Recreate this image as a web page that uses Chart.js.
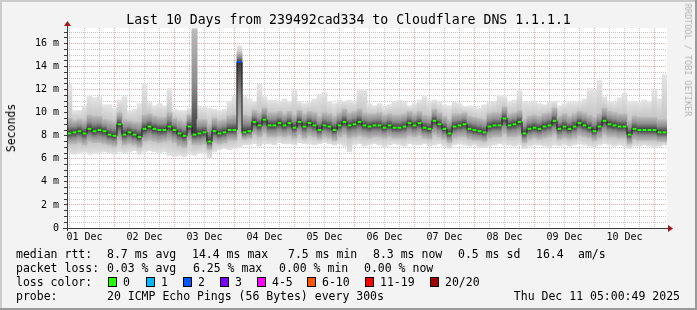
<!DOCTYPE html>
<html>
<head>
<meta charset="utf-8">
<script src="https://cdn.jsdelivr.net/npm/chart.js@4.4.1/dist/chart.umd.min.js"></script>
<style>
  body { margin: 0; background: #f3f3f3; }
  #wrap { position: relative; width: 697px; height: 310px; background: #f3f3f3; overflow: hidden;
          font-family: 'DejaVu Sans Mono', monospace; color: #000; }
  #chart { position: absolute; left: 0; top: 0; }
  .t { position: absolute; white-space: pre; font-size: 11.5px; line-height: 14px; }
  #title { position: absolute; left: 0; width: 697px; top: 12px; text-align: center; font-size: 13.2px; line-height: 16px; white-space: pre; }
  #ylab { position: absolute; left: 11px; top: 128px; font-size: 11.5px; white-space: pre;
          transform: translate(-50%, -50%) rotate(-90deg); }
  #brand { position: absolute; left: 688px; top: 60px; font-size: 8.5px; color: #b4b4b4; white-space: pre;
           transform: translate(-50%, -50%) rotate(90deg); }
  .box { position: absolute; width: 7px; height: 8px; border: 1px solid #000; }
</style>
</head>
<body>
<div id="wrap">
  <canvas id="chart" width="697" height="310"></canvas>
  <div id="title">Last 10 Days from 239492cad334 to Cloudflare DNS 1.1.1.1</div>
  <div id="ylab">Seconds</div>
  <div id="brand">RRDTOOL / TOBI OETIKER</div>

  <div class="t" style="left:16px;top:247px">median rtt:</div>
  <div class="t" style="left:107px;top:247px">8.7 ms avg</div>
  <div class="t" style="left:192px;top:247px">14.4 ms max</div>
  <div class="t" style="left:288px;top:247px">7.5 ms min</div>
  <div class="t" style="left:373px;top:247px">8.3 ms now</div>
  <div class="t" style="left:458px;top:247px">0.5 ms sd</div>
  <div class="t" style="left:536px;top:247px">16.4</div>
  <div class="t" style="left:578px;top:247px">am/s</div>

  <div class="t" style="left:16px;top:261px">packet loss:</div>
  <div class="t" style="left:107px;top:261px">0.03 % avg</div>
  <div class="t" style="left:193px;top:261px">6.25 % max</div>
  <div class="t" style="left:279px;top:261px">0.00 % min</div>
  <div class="t" style="left:364px;top:261px">0.00 % now</div>

  <div class="t" style="left:16px;top:275px">loss color:</div>
  <div id="losslegend"></div>

  <div class="t" style="left:16px;top:289px">probe:</div>
  <div class="t" style="left:107px;top:289px">20 ICMP Echo Pings (56 Bytes) every 300s</div>
  <div class="t" style="right:17px;top:289px">Thu Dec 11 05:00:49 2025</div>
</div>

<script>
// 2 hour bins, hours counted from Dec 1 05:00
const binHours = [];
for (let i = 0; i < 120; i++) binHours.push(2 * i + 1);

const medianRtt = [
  8.2, 8.3, 8.4, 8.2, 8.6, 8.4, 8.5, 8.4, 8.1, 8.0, 9.0, 8.1, 8.3, 8.1, 7.9, 8.6, 8.8, 8.6, 8.5, 8.5,
  8.8, 8.5, 8.2, 8.0, 8.8, 8.1, 8.2, 8.3, 7.5, 8.4, 8.2, 8.3, 8.5, 8.5, 14.4, 8.3, 8.4, 9.2, 8.9, 9.4,
  8.9, 8.9, 9.1, 8.9, 9.1, 8.7, 9.2, 8.8, 9.1, 8.9, 8.5, 8.9, 8.8, 8.5, 8.9, 9.2, 8.9, 9.0, 9.2, 8.9,
  8.8, 8.9, 8.9, 8.7, 8.9, 8.7, 8.7, 8.8, 9.1, 8.9, 9.1, 8.7, 8.6, 9.3, 9.0, 8.6, 8.2, 8.8, 8.9, 9.0,
  8.6, 8.5, 8.4, 8.3, 8.8, 8.9, 8.9, 9.5, 8.9, 9.0, 9.2, 8.2, 8.6, 8.7, 8.6, 8.8, 8.9, 9.3, 8.6, 8.8,
  8.6, 8.8, 9.1, 8.9, 8.7, 8.4, 8.8, 9.3, 9.0, 8.9, 8.8, 8.8, 8.1, 8.6, 8.5, 8.5, 8.5, 8.5, 8.3, 8.3
];
const pingMin = [
  6.5, 6.4, 6.5, 6.6, 6.4, 6.5, 6.5, 6.6, 6.5, 6.4, 6.6, 6.5, 6.6, 6.7, 6.4, 6.6, 6.7, 6.6, 6.5, 6.6,
  6.3, 6.2, 6.3, 6.2, 6.4, 6.3, 6.5, 6.5, 6.1, 6.6, 6.8, 6.9, 6.8, 6.9, 7.0, 7.2, 7.2, 7.3, 7.1, 7.3,
  7.3, 7.2, 7.4, 7.3, 7.3, 7.2, 7.4, 7.3, 7.3, 7.2, 7.3, 7.4, 7.3, 7.2, 7.3, 7.1, 6.6, 7.2, 7.3, 7.1,
  7.2, 7.3, 7.2, 7.0, 7.2, 7.3, 7.2, 7.1, 7.3, 7.2, 7.2, 7.3, 7.1, 7.2, 7.3, 7.1, 6.9, 7.2, 7.3, 7.2,
  7.1, 7.2, 7.0, 7.0, 7.1, 7.2, 7.3, 7.2, 7.2, 7.1, 7.2, 6.9, 7.1, 7.2, 7.2, 7.1, 7.0, 7.2, 7.1, 7.2,
  7.1, 7.2, 7.3, 7.2, 7.1, 7.0, 7.2, 7.3, 7.2, 7.1, 7.2, 7.1, 6.9, 7.1, 7.1, 7.2, 7.1, 7.0, 7.1, 7.2
];
const pingLow = [
  7.3, 7.3, 7.4, 7.2, 7.5, 7.4, 7.4, 7.3, 7.2, 7.1, 7.6, 7.2, 7.3, 7.2, 7.0, 7.5, 7.6, 7.5, 7.4, 7.5,
  7.6, 7.4, 7.1, 7.0, 7.6, 7.2, 7.2, 7.3, 6.8, 7.4, 7.3, 7.4, 7.6, 7.6, 8.2, 7.7, 7.8, 8.1, 7.9, 8.2,
  7.9, 7.9, 8.0, 7.9, 8.0, 7.8, 8.1, 7.8, 8.0, 7.9, 7.7, 7.9, 7.8, 7.6, 7.9, 8.1, 7.8, 7.9, 8.0, 7.9,
  7.8, 7.9, 7.9, 7.8, 7.9, 7.8, 7.8, 7.8, 8.0, 7.9, 8.0, 7.8, 7.7, 8.1, 7.9, 7.7, 7.4, 7.8, 7.9, 7.9,
  7.7, 7.6, 7.6, 7.5, 7.8, 7.9, 7.9, 8.2, 7.9, 7.9, 8.0, 7.4, 7.7, 7.8, 7.7, 7.8, 7.9, 8.1, 7.7, 7.8,
  7.7, 7.8, 8.0, 7.9, 7.8, 7.6, 7.8, 8.1, 7.9, 7.9, 7.8, 7.8, 7.3, 7.7, 7.6, 7.6, 7.6, 7.6, 7.5, 7.5
];
const pingHigh = [
  9.5, 9.3, 9.4, 9.3, 9.8, 9.7, 9.7, 9.4, 9.3, 9.2, 10.0, 9.4, 9.3, 9.2, 9.2, 9.8, 9.9, 9.7, 9.6, 9.6,
  10.0, 9.5, 9.3, 9.2, 9.8, 17.2, 9.4, 9.4, 9.0, 9.5, 9.3, 9.4, 9.7, 9.8, 15.2, 9.8, 9.7, 10.2, 10.0, 10.4,
  10.0, 10.0, 10.1, 9.9, 10.1, 9.8, 10.2, 9.9, 10.1, 10.0, 9.7, 10.0, 9.9, 9.7, 10.0, 10.3, 10.0, 10.1, 10.3, 10.0,
  9.9, 9.9, 10.0, 9.8, 9.9, 9.8, 9.8, 9.9, 10.1, 9.9, 10.1, 9.8, 9.7, 10.3, 10.0, 9.7, 9.4, 9.9, 9.9, 10.0,
  9.7, 9.6, 9.5, 9.4, 9.9, 10.0, 10.0, 10.5, 9.9, 10.0, 10.2, 9.4, 9.7, 9.8, 9.7, 9.9, 10.0, 10.4, 9.7, 9.9,
  9.7, 9.9, 10.1, 10.0, 9.8, 9.6, 9.9, 10.4, 10.1, 10.0, 9.9, 9.9, 9.3, 9.7, 9.6, 9.6, 9.6, 9.6, 9.4, 9.4
];
const pingMax = [
  12.4, 10.2, 10.2, 10.6, 11.5, 11.3, 11.4, 10.7, 10.7, 10.4, 11.1, 11.4, 10.2, 10.3, 10.8, 12.5, 10.9, 10.6, 10.8, 10.6,
  12.1, 10.3, 10.2, 10.2, 10.4, 17.4, 10.6, 10.5, 10.4, 10.3, 10.2, 10.3, 11.0, 11.4, 15.8, 11.4, 11.2, 11.0, 12.5, 11.4,
  11.1, 11.1, 11.0, 11.2, 11.0, 12.0, 11.0, 10.8, 10.9, 11.2, 11.6, 11.8, 11.0, 10.8, 11.1, 11.0, 11.1, 11.0, 12.0, 12.0,
  10.8, 10.6, 10.8, 10.5, 10.7, 11.0, 11.1, 10.9, 10.6, 10.8, 11.1, 11.4, 11.0, 11.1, 10.9, 10.7, 10.6, 10.9, 10.8, 10.5,
  10.6, 10.5, 10.4, 10.7, 10.9, 11.0, 11.5, 11.4, 11.0, 11.1, 12.0, 11.0, 10.9, 11.0, 10.8, 10.7, 10.9, 11.0, 10.6, 10.8,
  11.0, 10.9, 11.0, 11.2, 12.1, 12.0, 12.8, 11.4, 11.0, 10.9, 11.3, 11.7, 11.0, 11.0, 10.9, 11.1, 11.0, 12.0, 11.2, 13.3
];
// lost pings per bin, as legend bucket index
const lossBucket = [
  0, 0, 0, 0, 0, 0, 0, 0, 0, 0, 0, 0, 0, 0, 0, 0, 0, 0, 0, 0,
  0, 0, 0, 0, 0, 0, 0, 0, 0, 0, 0, 0, 0, 0, 2, 0, 0, 0, 0, 0,
  0, 0, 0, 0, 0, 0, 0, 0, 0, 0, 0, 0, 0, 0, 0, 0, 0, 0, 0, 0,
  0, 0, 0, 0, 0, 0, 0, 0, 0, 0, 0, 0, 0, 0, 0, 0, 0, 0, 0, 0,
  0, 0, 0, 0, 0, 0, 0, 0, 0, 0, 0, 0, 0, 0, 0, 0, 0, 0, 0, 0,
  0, 0, 0, 0, 0, 0, 0, 0, 0, 0, 0, 0, 0, 0, 0, 0, 0, 0, 0, 0
];

const lossLabels = ['0', '1', '2', '3', '4-5', '6-10', '11-19', '20/20'];
const lossColors = ['#26ff00', '#00b8ff', '#0059ff', '#7e00ff', '#ff00ff', '#ff5500', '#ff0000', '#a10000'];

const dayLabels = ['01 Dec', '02 Dec', '03 Dec', '04 Dec', '05 Dec', '06 Dec', '07 Dec', '08 Dec', '09 Dec', '10 Dec'];
const yLabels = ['0', '2 m', '4 m', '6 m', '8 m', '10 m', '12 m', '14 m', '16 m'];

// legend boxes
const boxX = [108, 146, 183, 220, 257, 307, 365, 430];
const leg = document.getElementById('losslegend');
lossLabels.forEach((lab, i) => {
  const b = document.createElement('div');
  b.className = 'box';
  b.style.left = boxX[i] + 'px';
  b.style.top = '277px';
  b.style.background = lossColors[i];
  leg.appendChild(b);
  const t = document.createElement('div');
  t.className = 't';
  t.style.left = (boxX[i] + 15) + 'px';
  t.style.top = '275px';
  t.textContent = lab;
  leg.appendChild(t);
});

const xTicks = [];
for (let h = 1; h < 240; h += 6) xTicks.push(h);
const yTicks = [];
for (let v = 0; v <= 17; v += 0.5) yTicks.push(v);

const minorGrid = 'rgba(130,130,130,0.45)';
const majorGrid = 'rgba(210,40,40,0.4)';
const font = { family: 'DejaVu Sans Mono', size: 10 };

function px(chart, v) { return chart.scales.y.getPixelForValue(v); }

function outerFill(c) {
  const chart = c.chart;
  if (!chart.chartArea || c.dataIndex === undefined) return '#d8d8d8';
  const i = c.dataIndex;
  const top = px(chart, pingMax[i]), bot = px(chart, pingMin[i]);
  const span = bot - top || 1;
  const g = chart.ctx.createLinearGradient(0, top, 0, bot);
  const a = Math.min(Math.max((px(chart, pingHigh[i]) - top) / span, 0), 1);
  const b = Math.min(Math.max((px(chart, pingLow[i]) - top) / span, a), 1);
  g.addColorStop(0, '#e4e4e4');
  g.addColorStop(a, '#c6c6c6');
  g.addColorStop(b, '#c6c6c6');
  g.addColorStop(1, '#e0e0e0');
  return g;
}

function innerFill(c) {
  const chart = c.chart;
  if (!chart.chartArea || c.dataIndex === undefined) return '#8c8c8c';
  const i = c.dataIndex;
  const top = px(chart, pingHigh[i]), bot = px(chart, pingLow[i]);
  const span = bot - top || 1;
  const t = Math.min(Math.max((px(chart, medianRtt[i]) - top) / span, 0.05), 0.95);
  const g = chart.ctx.createLinearGradient(0, top, 0, bot);
  g.addColorStop(0, '#bababa');
  g.addColorStop(t * 0.5, '#8e8e8e');
  g.addColorStop(t, '#383838');
  g.addColorStop(t + (1 - t) * 0.5, '#8e8e8e');
  g.addColorStop(1, '#bababa');
  return g;
}

const frame = {
  id: 'frame',
  beforeDraw(chart) {
    const { ctx, chartArea: a } = chart;
    ctx.save();
    ctx.fillStyle = '#ffffff';
    ctx.fillRect(a.left, a.top, a.right - a.left, a.bottom - a.top);
    ctx.restore();
  },
  afterDraw(chart) {
    const { ctx, chartArea: a } = chart;
    ctx.save();
    // outer frame
    ctx.fillStyle = '#cbcbcb';
    ctx.fillRect(0, 0, 697, 2);
    ctx.fillRect(0, 0, 2, 310);
    ctx.fillStyle = '#9a9a9a';
    ctx.fillRect(0, 308, 697, 2);
    ctx.fillRect(695, 0, 2, 310);
    // axes
    ctx.strokeStyle = '#3a3a3a';
    ctx.lineWidth = 1;
    ctx.beginPath();
    ctx.moveTo(a.left + 0.5, a.bottom + 3);
    ctx.lineTo(a.left + 0.5, a.top - 3);
    ctx.moveTo(a.left - 4, a.bottom + 0.5);
    ctx.lineTo(a.right + 2, a.bottom + 0.5);
    ctx.stroke();
    ctx.fillStyle = '#9c1a1a';
    ctx.beginPath();
    ctx.moveTo(a.left + 0.5, a.top - 7);
    ctx.lineTo(a.left - 3, a.top - 2);
    ctx.lineTo(a.left + 4, a.top - 2);
    ctx.closePath();
    ctx.fill();
    ctx.beginPath();
    ctx.moveTo(a.right + 6, a.bottom + 0.5);
    ctx.lineTo(a.right + 1, a.bottom - 3);
    ctx.lineTo(a.right + 1, a.bottom + 4);
    ctx.closePath();
    ctx.fill();
    ctx.restore();
  }
};

new Chart(document.getElementById('chart'), {
  type: 'bar',
  data: {
    datasets: [
      {
        type: 'line',
        data: binHours.map((h, i) => ({ x: h, y: medianRtt[i] })),
        stepped: 'middle',
        borderColor: '#1c1c1c',
        borderWidth: 1,
        pointStyle: 'line',
        pointRadius: 2,
        pointBorderWidth: 2,
        pointBorderColor: lossBucket.map(k => lossColors[k]),
        pointBackgroundColor: lossBucket.map(k => lossColors[k]),
        order: 1
      },
      {
        data: binHours.map((h, i) => ({ x: h, y: [pingLow[i], pingHigh[i]] })),
        backgroundColor: innerFill,
        borderWidth: 0,
        barPercentage: 1,
        categoryPercentage: 1,
        grouped: false,
        order: 2
      },
      {
        data: binHours.map((h, i) => ({ x: h, y: [pingMin[i], pingMax[i]] })),
        backgroundColor: outerFill,
        borderWidth: 0,
        barPercentage: 1,
        categoryPercentage: 1,
        grouped: false,
        order: 3
      }
    ]
  },
  options: {
    responsive: false,
    animation: false,
    events: [],
    layout: { padding: { left: 0, top: 28, right: 30, bottom: 0 } },
    plugins: { legend: { display: false }, tooltip: { enabled: false } },
    scales: {
      x: {
        type: 'linear',
        min: 0,
        max: 240,
        offset: false,
        z: 1,
        afterBuildTicks: s => { s.ticks = xTicks.map(v => ({ value: v })); },
        afterFit: s => { s.height = 82; },
        grid: {
          offset: false,
          drawTicks: false,
          lineWidth: 1,
          color: c => (c.tick && (c.tick.value - 19) % 24 === 0) ? majorGrid : minorGrid
        },
        border: { display: false, dash: [1, 1] },
        ticks: {
          autoSkip: false,
          maxRotation: 0,
          minRotation: 0,
          padding: 3,
          color: '#000',
          font: font,
          callback: v => ((v - 7) % 24 === 0) ? dayLabels[(v - 7) / 24] : ''
        }
      },
      y: {
        type: 'linear',
        min: 0,
        max: 17.35,
        z: 1,
        afterBuildTicks: s => { s.ticks = yTicks.map(v => ({ value: v })); },
        afterFit: s => { s.width = 67; },
        grid: {
          lineWidth: 1,
          tickLength: 3,
          tickColor: '#3a3a3a',
          color: c => (c.tick && c.tick.value % 2 === 0) ? majorGrid : minorGrid
        },
        border: { display: false, dash: [1, 1] },
        ticks: {
          autoSkip: false,
          padding: 5,
          color: '#000',
          font: font,
          callback: v => (v % 2 === 0) ? yLabels[v / 2] : ''
        }
      }
    }
  },
  plugins: [frame]
});
</script>
</body>
</html>
